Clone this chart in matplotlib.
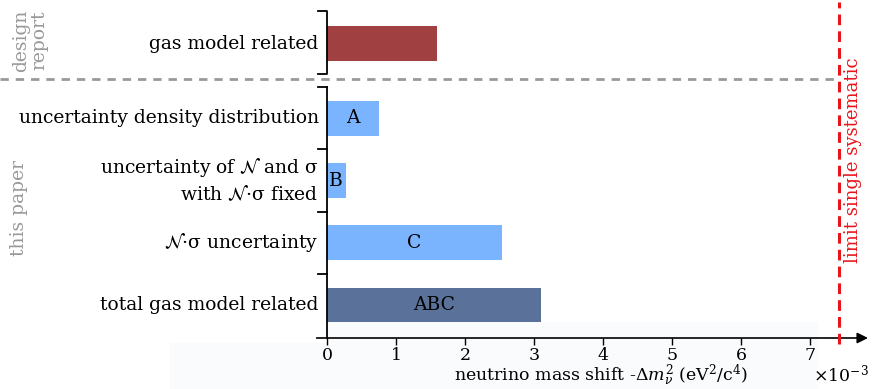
import numpy as np
import matplotlib
matplotlib.use("Agg")
import matplotlib.pyplot as plt
from matplotlib.patches import Rectangle

plt.rcParams['font.family'] = ['DejaVu Serif']
plt.rcParams['mathtext.fontset'] = 'dejavuserif'

# data (x in units of 1e-3 eV^2/c^4)
labels = ["total gas model related", r"$\mathcal{N}$·σ uncertainty",
          "uncertainty of $\\mathcal{N}$ and σ\nwith $\\mathcal{N}$·σ fixed",
          "uncertainty density distribution", "gas model related"]
values = [3.10, 2.54, 0.27, 0.75, 1.59]
bar_text = ["ABC", "C", "B", "A", ""]
ypos = [0, 1, 2, 3, 4.2]
colors = ["#5a7299", "#7ab4ff", "#7ab4ff", "#7ab4ff", "#a04040"]
limit = 7.42
xticks = [0, 1, 2, 3, 4, 5, 6, 7]

fs = 13.5
fig = plt.figure(figsize=(8.72, 3.89), dpi=100)
ax = fig.add_axes([327 / 872, 51 / 389, 541 / 872, 338 / 389])
xmin, xmax = 0, 7.84
ymin, ymax = -0.53, 4.9
ax.set_xlim(xmin, xmax)
ax.set_ylim(ymin, ymax)

# faint background patches at the bottom
fig.patches.append(Rectangle((170 / 872, 0), (327 - 170) / 872, 46 / 389,
                             transform=fig.transFigure, color="#fafbfd", zorder=-10))
fig.patches.append(Rectangle((327 / 872, 0), (817 - 327) / 872, 67 / 389,
                             transform=fig.transFigure, color="#fafbfd", zorder=-10))

ax.barh(ypos, values, height=0.56, color=colors, zorder=3)
for y, v, t in zip(ypos, values, bar_text):
    if t:
        ax.text(v / 2, y, t, ha="center", va="center", fontsize=fs, zorder=4)
for y, lab in zip(ypos, labels):
    ax.text(-0.12, y, lab, ha="right", va="center", fontsize=fs,
            linespacing=1.35, clip_on=False)

for s in ax.spines.values():
    s.set_visible(False)
ax.set_yticks([])
ax.set_xticks(xticks)
ax.tick_params(axis="x", direction="out", length=5, width=1, labelsize=12.5, pad=1.5)
ax.patch.set_alpha(0)

# left brackets
kw = dict(color="black", lw=1.3, clip_on=False, zorder=5)
ax.plot([0, 0], [ymin, 3.5], **kw)
for yt in [0.5, 1.5, 2.5, 3.5]:
    ax.plot([-0.13, 0], [yt, yt], **kw)
ax.plot([-0.13, 0, 0, -0.13], [3.71, 3.71, 4.72, 4.72], **kw)

# x axis with arrow
ax.annotate("", xy=(xmax, ymin), xytext=(-0.15, ymin), annotation_clip=False,
            arrowprops=dict(arrowstyle="-|>", color="black", lw=1.2,
                            mutation_scale=16, shrinkA=0, shrinkB=0))

# separator line and limit
ax.plot([-4.74, limit], [3.63, 3.63], ls=(0, (3, 2.5)), color="#999999", lw=2,
        clip_on=False, zorder=2)
ax.plot([limit, limit], [-0.62, 4.86], ls=(0, (3.5, 2)), color="#e8151b", lw=2.2,
        clip_on=False, zorder=6)
ax.text(7.62, 2.33, "limit single systematic", rotation=90, color="#e8151b",
        ha="center", va="center", fontsize=13)

# group labels
ax.text(-4.30, 4.25, "design\nreport", rotation=90, color="#999999", ha="center",
        va="center", fontsize=fs, linespacing=1.0, clip_on=False)
ax.text(-4.46, 1.56, "this paper", rotation=90, color="#999999", ha="center",
        va="center", fontsize=fs, clip_on=False)

ax.set_xlabel(r"neutrino mass shift -$\Delta m_\nu^{2}$ (eV$^2$/c$^4$)",
              fontsize=12.5, va="baseline")
ax.xaxis.set_label_coords(274 / 541, -43 / 338)
fig.text(869 / 872, 8 / 389, r"×10$^{\mathregular{-3}}$", ha="right",
         va="baseline", fontsize=12.5)

fig.savefig("out.png", dpi=100)
